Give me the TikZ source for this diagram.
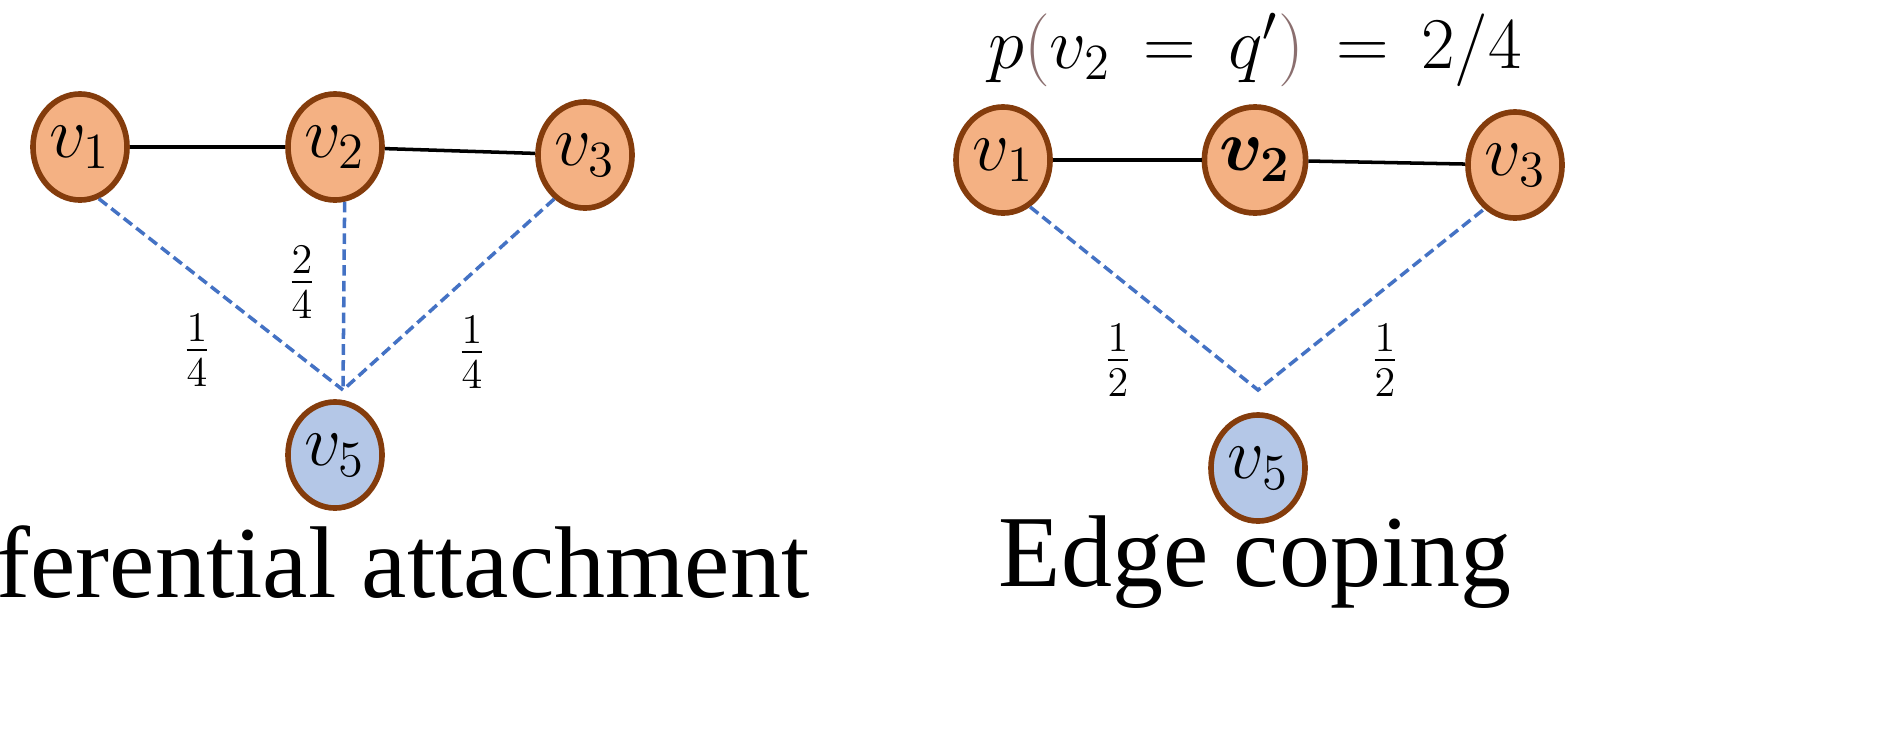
\documentclass[tikz,border=0pt]{standalone}
\usepackage{amsmath}
\usepackage{fontspec}
\setmainfont{Liberation Serif}
\usetikzlibrary{shapes.geometric}
\begin{document}
\begin{tikzpicture}[x=0.01cm,y=-0.01cm]
\definecolor{orn}{HTML}{F4B183}\definecolor{bln}{HTML}{B4C7E7}
\definecolor{brn}{HTML}{843C0C}\definecolor{dblue}{HTML}{4472C4}\definecolor{par}{HTML}{8B6F6F}
\tikzset{
 nd/.style={ellipse,draw=brn,line width=1.6pt,minimum width=0.94cm,minimum height=1.06cm,inner sep=0pt,font=\fontsize{20}{22}\selectfont},
 org/.style={nd,fill=orn}, blu/.style={nd,fill=bln},
 sol/.style={line width=1pt,black},
 dsh/.style={line width=1pt,color=dblue,dash pattern=on 3pt off 1.5pt},
 lab/.style={font=\fontsize{17}{19}\selectfont},
 captxt/.style={font=\fontsize{29}{32}\selectfont}}
\useasboundingbox (0,0) rectangle (1892,733);
% left
\node[org] (a1) at (80,147) {$v_1$};
\node[org] (a2) at (335,147) {$v_2$};
\node[org] (a3) at (585,155) {$v_3$};
\node[blu] (a5) at (335,455) {$v_5$};
\coordinate (am) at (343,390);
\draw[sol] (a1) -- (a2); \draw[sol] (a2) -- (a3);
\draw[dsh] (a1.-70) -- (am); \draw[dsh] (a2.-80) -- (am); \draw[dsh] (a3.-125) -- (am);
\node[lab] (l1) at (197,350) {$\frac{1}{4}$};
\node[lab] (l2) at (302,282) {$\frac{2}{4}$};
\node[lab] (l3) at (472,352) {$\frac{1}{4}$};
\node[captxt] (c1) at (335,562) {Preferential attachment};
% right
\node[org] (b1) at (1003,160) {$v_1$};
\node[org] (b2) at (1255,160) {$\boldsymbol{v_2}$};
\node[org] (b3) at (1515,165) {$v_3$};
\node[blu] (b5) at (1258,468) {$v_5$};
\coordinate (bm) at (1258,390);
\draw[sol] (b1) -- (b2); \draw[sol] (b2) -- (b3);
\draw[dsh] (b1.-60) -- (bm) -- (b3.-125);
\node[lab] (r1) at (1118,360) {$\frac{1}{2}$};
\node[lab] (r2) at (1385,360) {$\frac{1}{2}$};
\node[font=\fontsize{22}{24}\selectfont] (t) at (1255,50) {$p\textcolor{par}{(}v_2\,=\,q'\textcolor{par}{)}\,=\,2/4$};
\node[captxt] (c2) at (1255,562) {Edge coping};
\end{tikzpicture}
\end{document}
